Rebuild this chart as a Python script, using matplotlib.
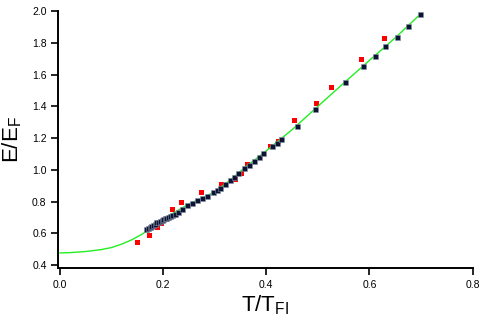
import matplotlib
matplotlib.use("Agg")
import matplotlib.pyplot as plt

plt.rcParams["font.family"] = ["Liberation Sans", "DejaVu Sans"]
plt.rcParams["mathtext.default"] = "regular"

# fit curve
fit_t = [0.0, 0.02, 0.05, 0.08, 0.10, 0.12, 0.14, 0.16, 0.17, 0.18, 0.20,
         0.22, 0.25, 0.28, 0.30, 0.33, 0.36, 0.40, 0.45, 0.50, 0.55, 0.60,
         0.65, 0.70]
fit_e = [0.476, 0.478, 0.485, 0.497, 0.510, 0.532, 0.560, 0.596, 0.618,
         0.642, 0.690, 0.728, 0.785, 0.828, 0.862, 0.935, 1.018, 1.120,
         1.253, 1.400, 1.546, 1.690, 1.832, 1.985]

# dark squares
dark_t = [0.166, 0.170, 0.174, 0.177, 0.180, 0.184, 0.187, 0.190, 0.193,
          0.197, 0.200, 0.203, 0.206, 0.210, 0.213, 0.218, 0.223, 0.228,
          0.237, 0.246, 0.256, 0.265, 0.275, 0.285, 0.296, 0.305, 0.310,
          0.320, 0.329, 0.337, 0.346, 0.357, 0.367, 0.376, 0.386, 0.394,
          0.412, 0.420, 0.428, 0.459, 0.494, 0.552, 0.587, 0.610, 0.631,
          0.653, 0.674, 0.699]
dark_e = [0.625, 0.632, 0.638, 0.645, 0.652, 0.661, 0.669, 0.674, 0.679,
          0.684, 0.688, 0.694, 0.698, 0.702, 0.706, 0.715, 0.724, 0.735,
          0.753, 0.778, 0.793, 0.810, 0.821, 0.835, 0.858, 0.875, 0.884,
          0.909, 0.938, 0.957, 0.978, 1.010, 1.031, 1.056, 1.083, 1.104,
          1.152, 1.171, 1.193, 1.278, 1.385, 1.552, 1.653, 1.720, 1.779,
          1.840, 1.905, 1.983]

# red squares
red_t = [0.149, 0.172, 0.188, 0.195, 0.218, 0.235, 0.274, 0.313, 0.340,
         0.350, 0.363, 0.408, 0.423, 0.454, 0.497, 0.526, 0.583, 0.629]
red_e = [0.547, 0.589, 0.640, 0.666, 0.751, 0.794, 0.858, 0.913, 0.941,
         0.980, 1.034, 1.152, 1.182, 1.314, 1.420, 1.520, 1.699, 1.831]

x_ticks = [0.0, 0.2, 0.4, 0.6, 0.8]
y_ticks = [0.4, 0.6, 0.8, 1.0, 1.2, 1.4, 1.6, 1.8, 2.0]

fig = plt.figure(figsize=(4.98, 3.23), dpi=100)
ax = fig.add_axes([0.1159, 0.1703, 0.833, 0.795])

ax.plot(red_t, red_e, "s", color="#ff0000", markersize=3.6, markeredgewidth=0, zorder=2)
ax.plot(fit_t, fit_e, "-", color="#22ee22", linewidth=1.0, zorder=3)
ax.plot(dark_t, dark_e, "s", color="#0b1433", markersize=3.6,
        markeredgecolor="#8890a8", markeredgewidth=0.4, zorder=4)

ax.set_xlim(-0.0045, 0.8)
ax.set_ylim(0.381, 2.0)
ax.set_xticks(x_ticks)
ax.set_yticks(y_ticks)
ax.set_xticklabels([f"{v:.1f}" for v in x_ticks])
ax.set_yticklabels([f"{v:.1f}" for v in y_ticks])

for side in ["top", "right"]:
    ax.spines[side].set_visible(False)
for side in ["left", "bottom"]:
    ax.spines[side].set_linewidth(1.4)

ax.tick_params(direction="out", length=5, width=1.2, labelsize=7.5, colors="black")
ax.tick_params(axis="x", pad=4)
ax.tick_params(axis="y", pad=3)

ax.set_xlabel(r"T/T$_{FI}$", fontsize=16, labelpad=2)
ax.set_ylabel(r"E/E$_F$", fontsize=16, labelpad=6)

fig.savefig("out.png", dpi=100)
